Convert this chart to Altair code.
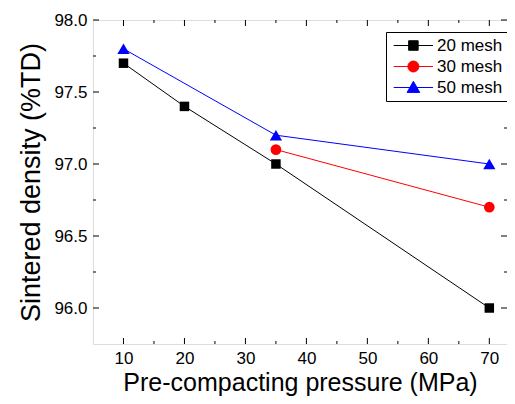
import altair as alt
import pandas as pd

# ---- data ----
series = ["20 mesh", "30 mesh", "50 mesh"]
colors = ["#000000", "#ff0000", "#0000ff"]
shapes = ["square", "circle", "triangle-up"]
marker_sizes = [90, 115, 150]

pressure_20 = [10, 20, 35, 70]
density_20 = [97.7, 97.4, 97.0, 96.0]
pressure_30 = [35, 70]
density_30 = [97.1, 96.7]
pressure_50 = [10, 35, 70]
density_50 = [97.8, 97.2, 97.0]

x_major = [10, 20, 30, 40, 50, 60, 70]
x_minor = [15, 25, 35, 45, 55, 65]
y_major = [96.0, 96.5, 97.0, 97.5, 98.0]
y_minor = [96.25, 96.75, 97.25, 97.75]

# legend symbol paths (line through marker); 1 unit = 5 px at symbolSize 100
legend_paths = [
    "M-1.16,0L6.7,0M1.83,-0.95L3.73,-0.95L3.73,0.95L1.83,0.95Z",
    "M-1.16,0L6.7,0M1.68,0A1.1,1.1,0,1,0,3.88,0A1.1,1.1,0,1,0,1.68,0Z",
    "M-1.16,0L6.7,0M2.78,-1.24L4.04,0.98L1.52,0.98Z",
]

frames = []
for name, xs_, ys_ in zip(series, [pressure_20, pressure_30, pressure_50],
                          [density_20, density_30, density_50]):
    frames.append(pd.DataFrame({"series": name, "pressure": xs_, "density": ys_}))
df = pd.concat(frames, ignore_index=True)

W, H = 414, 324
FONT = "Liberation Sans"

xscale = alt.Scale(domain=[5, 72.9], nice=False, zero=False)
yscale = alt.Scale(domain=[95.75, 98.0], nice=False, zero=False)
cscale = alt.Scale(domain=series, range=colors)

x_axis = alt.Axis(values=x_major, ticks=False, tickSize=0, domain=False, grid=False,
                  labelFont=FONT, labelFontSize=17, labelColor="black", labelPadding=6,
                  labelFlush=False,
                  title="Pre-compacting pressure (MPa)", titleFont=FONT, titleFontSize=25,
                  titleFontWeight="normal", titleColor="black", titlePadding=4)
y_axis = alt.Axis(values=y_major, format=".1f", ticks=False, tickSize=0, domain=False,
                  grid=False, labelFont=FONT, labelFontSize=17, labelColor="black",
                  labelPadding=6, labelFlush=False,
                  title="Sintered density (%TD)", titleFont=FONT, titleFontSize=27,
                  titleFontWeight="normal", titleColor="black", titlePadding=8)


def X(field):
    return alt.X(field, type="quantitative", scale=xscale, axis=x_axis)


def Y(field):
    return alt.Y(field, type="quantitative", scale=yscale, axis=y_axis)


legend = alt.Legend(
    title=None, orient="none", legendX=293, legendY=12, padding=5,
    strokeColor="black", fillColor="white", cornerRadius=0,
    labelFont=FONT, labelFontSize=17, labelColor="black", labelOffset=29,
    symbolSize=100, symbolStrokeWidth=1, symbolOpacity=1, rowPadding=3,
)

line_layers = []
marker_layers = []
for f, c, s, z in zip(frames, colors, shapes, marker_sizes):
    line_layers.append(
        alt.Chart(f).mark_line(strokeWidth=1, color=c).encode(
            x=X("pressure"), y=Y("density"))
    )
    marker_layers.append(
        alt.Chart(f).mark_point(filled=True, opacity=1, color=c, shape=s, size=z).encode(
            x=X("pressure"), y=Y("density"))
    )

# invisible layer that only carries the legend (line-through-marker symbols)
legend_layer = alt.Chart(df).mark_point(filled=True, opacity=0, strokeWidth=1).encode(
    x=X("pressure"), y=Y("density"),
    color=alt.Color("series:N", scale=cscale, legend=legend),
    stroke=alt.Stroke("series:N", scale=cscale, legend=legend),
    shape=alt.Shape("series:N", scale=alt.Scale(domain=series, range=legend_paths), legend=legend),
)


def xticks(values, length):
    d = pd.DataFrame({"v": values})
    bottom = alt.Chart(d).mark_rule(color="black", strokeWidth=1).encode(
        x=X("v"), y=alt.value(H), y2=alt.value(H - length))
    top = alt.Chart(d).mark_rule(color="black", strokeWidth=1).encode(
        x=X("v"), y=alt.value(0), y2=alt.value(length))
    return [bottom, top]


def yticks(values, length):
    d = pd.DataFrame({"v": values})
    left = alt.Chart(d).mark_rule(color="black", strokeWidth=1).encode(
        y=Y("v"), x=alt.value(0), x2=alt.value(length))
    right = alt.Chart(d).mark_rule(color="black", strokeWidth=1).encode(
        y=Y("v"), x=alt.value(W), x2=alt.value(W - length))
    return [left, right]


tick_layers = xticks(x_major, 6) + xticks(x_minor, 3) + yticks(y_major, 6) + yticks(y_minor, 3)

chart = alt.layer(legend_layer, *line_layers, *tick_layers, *marker_layers).properties(
    width=W, height=H,
    padding={"left": 85, "top": 12, "right": 0, "bottom": 52},
    autosize="none",
).configure_view(stroke="black", strokeWidth=1).configure(background="white")

chart.save("out.html", embed_options={"renderer": "svg", "actions": False})
